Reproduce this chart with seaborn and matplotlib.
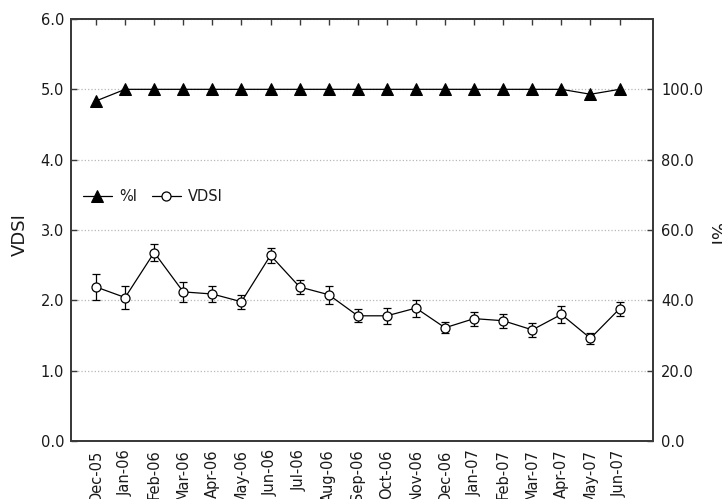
import numpy as np
import pandas as pd
import matplotlib
matplotlib.use("Agg")
import matplotlib.pyplot as plt
import seaborn as sns

months = ["Dec-05", "Jan-06", "Feb-06", "Mar-06", "Apr-06", "May-06", "Jun-06",
          "Jul-06", "Aug-06", "Sep-06", "Oct-06", "Nov-06", "Dec-06", "Jan-07",
          "Feb-07", "Mar-07", "Apr-07", "May-07", "Jun-07"]
vdsi = [2.19, 2.04, 2.68, 2.12, 2.09, 1.98, 2.64, 2.19, 2.08, 1.78, 1.78, 1.89,
        1.61, 1.74, 1.71, 1.58, 1.80, 1.46, 1.88]
vdsi_err = [0.19, 0.17, 0.12, 0.14, 0.12, 0.10, 0.11, 0.10, 0.13, 0.09, 0.11, 0.12,
            0.08, 0.10, 0.10, 0.10, 0.12, 0.08, 0.10]
pct_i = [96.7, 100, 100, 100, 100, 100, 100, 100, 100, 100, 100, 100,
         100, 100, 100, 100, 100, 98.6, 100]

left_ticks = [0, 1, 2, 3, 4, 5, 6]
right_ticks = [0, 20, 40, 60, 80, 100]

sns.set_theme(style="white")
plt.rcParams['font.family'] = ['DejaVu Sans']

df = pd.DataFrame({"pos": np.arange(len(months)), "VDSI": vdsi,
                   "err": vdsi_err, "PI": pct_i})

fig = plt.figure(figsize=(7.22, 4.99), dpi=100)
ax = fig.add_axes([71/722, 1 - 441/499, (653 - 71)/722, (441 - 19)/499])
ax2 = ax.twinx()

txt = '#1a1a1a'
spc = '#3a3a3a'

# VDSI on left axis
ax.errorbar(df["pos"], df["VDSI"], yerr=df["err"], fmt='none', ecolor='black',
            elinewidth=0.9, capsize=3, capthick=0.9, zorder=3)
sns.lineplot(data=df, x="pos", y="VDSI", ax=ax, color='black', linewidth=0.9,
             marker='o', markersize=6.5, markerfacecolor='white',
             markeredgecolor='black', markeredgewidth=0.9, label='VDSI', zorder=4)

# %I on right axis
sns.lineplot(data=df, x="pos", y="PI", ax=ax2, color='black', linewidth=0.9,
             marker='^', markersize=9, markerfacecolor='black',
             markeredgecolor='black', label='%I', zorder=4)

ax.set_xlim(-0.86, 19.15)
ax.set_ylim(0, 6)
ax2.set_ylim(0, 120)

ax.set_yticks(left_ticks)
ax.set_yticklabels([f"{v:.1f}" for v in left_ticks])
ax2.set_yticks(right_ticks)
ax2.set_yticklabels([f"{v:.1f}" for v in right_ticks])
ax.set_xticks(df["pos"])
ax.set_xticklabels(months, rotation=90)

for a in (ax, ax2):
    for s in a.spines.values():
        s.set_color(spc)
        s.set_linewidth(1.3)
    a.tick_params(direction='in', length=4, width=1, color=spc,
                  labelsize=10.5, labelcolor=txt)
ax.tick_params(axis='x', top=True, pad=6)
ax.tick_params(axis='y', left=True, pad=5)
ax2.tick_params(axis='y', right=True, pad=6)

ax.yaxis.grid(True, linestyle=':', color='#b8b8b8', linewidth=0.9)
ax.xaxis.grid(False)
ax2.grid(False)
ax.set_axisbelow(True)

ax.set_xlabel('')
ax.set_ylabel('VDSI', fontsize=13, color=txt)
ax.yaxis.set_label_coords(-0.073, 0.49)
ax2.set_ylabel('%I', fontsize=13, color=txt, rotation=270, va='center')
ax2.yaxis.set_label_coords(1.106, 0.49)

# combined legend
if ax.get_legend():
    ax.get_legend().remove()
if ax2.get_legend():
    ax2.get_legend().remove()
h1, l1 = ax2.get_legend_handles_labels()
h2, l2 = ax.get_legend_handles_labels()
leg = ax2.legend(h1 + h2, l1 + l2, ncol=2, frameon=False, loc='center left',
                 bbox_to_anchor=(0.010, 0.579), borderaxespad=0,
                 handlelength=2.0, handletextpad=0.5, columnspacing=1.0,
                 fontsize=10.5)
for t in leg.get_texts():
    t.set_color(txt)

fig.savefig("out.png", dpi=100)
